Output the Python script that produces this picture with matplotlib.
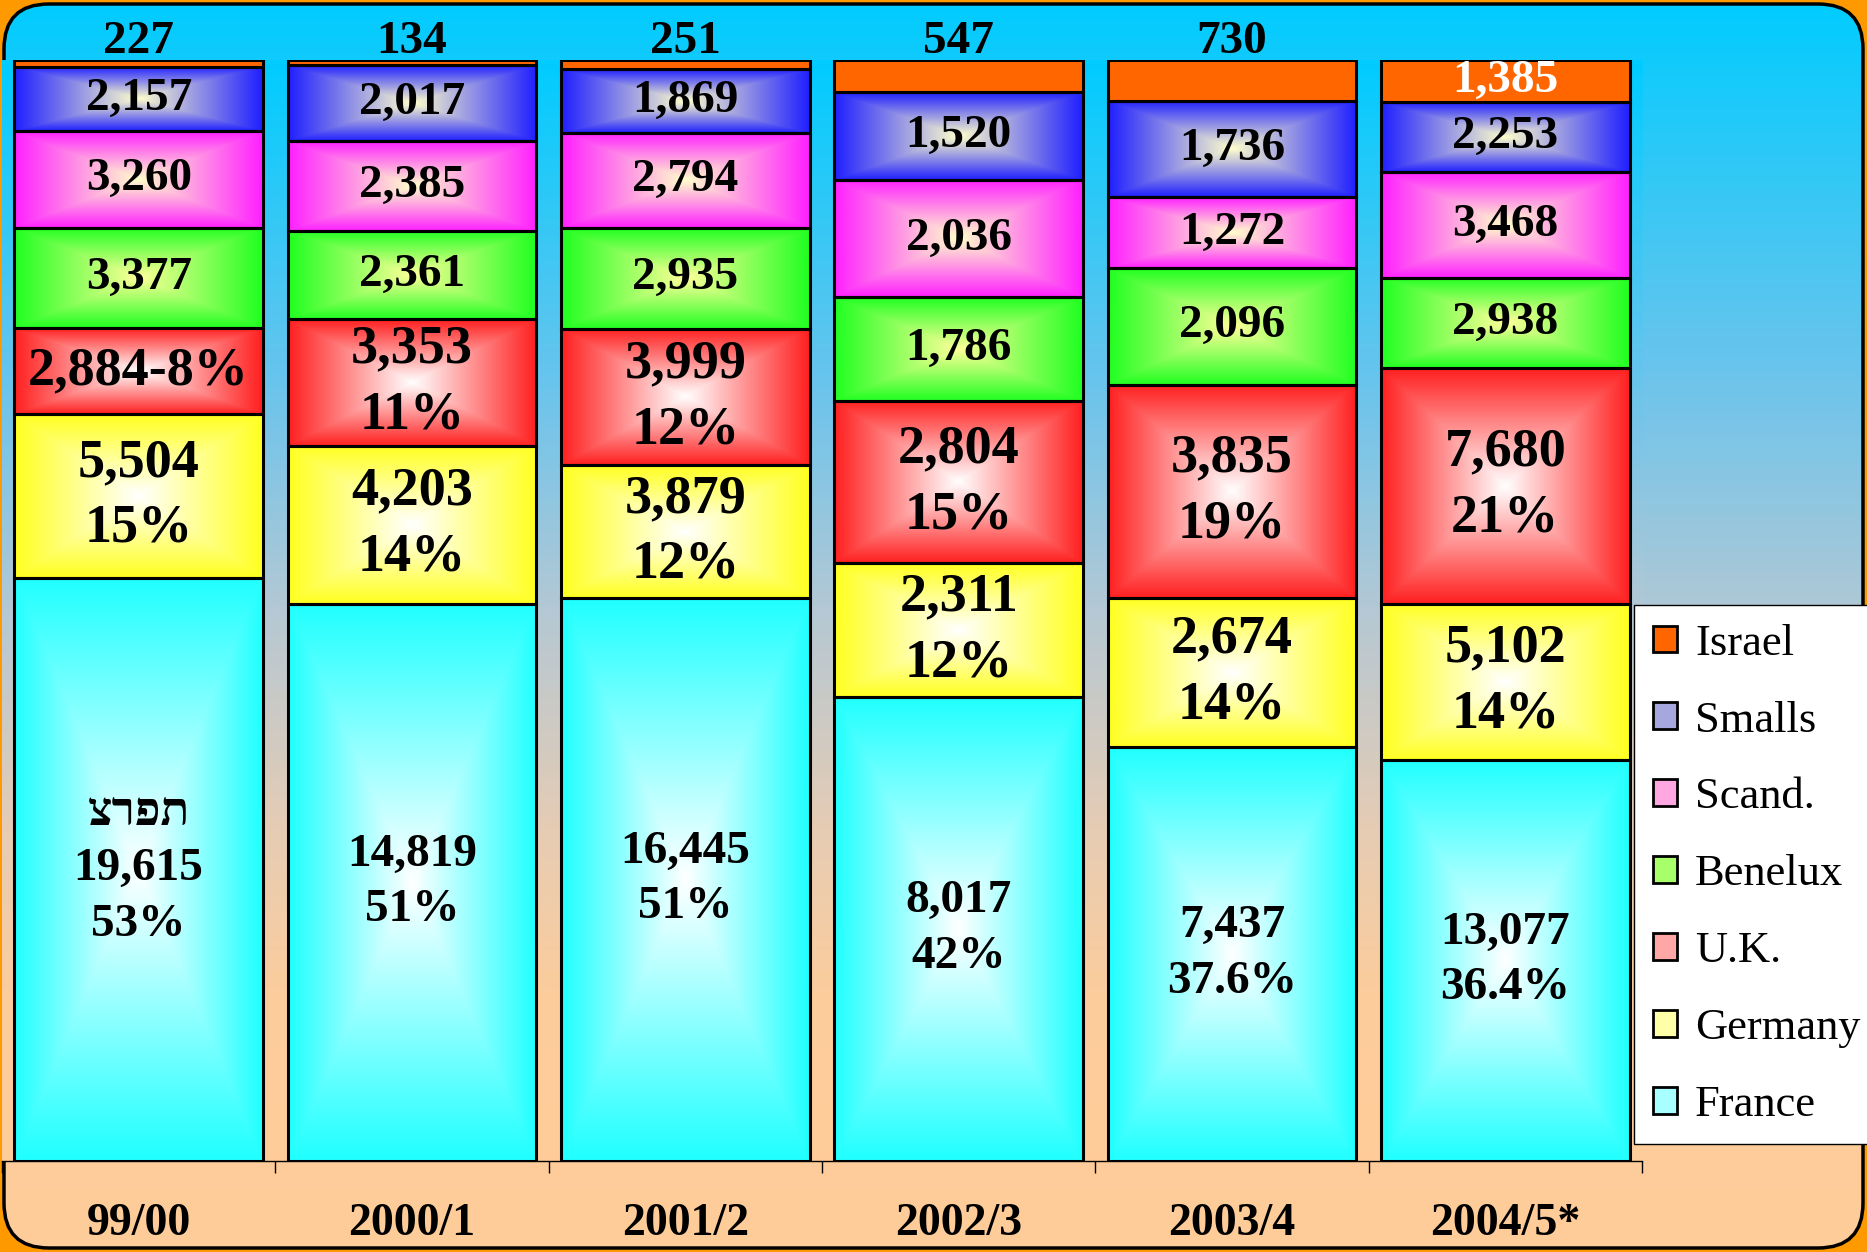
import numpy as np
import matplotlib.pyplot as plt
from matplotlib.patches import Rectangle, FancyBboxPatch, Patch
from matplotlib.colors import LinearSegmentedColormap, to_rgb

# ---- data ----
years = ['99/00', '2000/1', '2001/2', '2002/3', '2003/4', '2004/5*']
france = [19615, 14819, 16445, 8017, 7437, 13077]
germany = [5504, 4203, 3879, 2311, 2674, 5102]
uk = [2884, 3353, 3999, 2804, 3835, 7680]
benelux = [3377, 2361, 2935, 1786, 2096, 2938]
scand = [3260, 2385, 2794, 2036, 1272, 3468]
smalls = [2157, 2017, 1869, 1520, 1736, 2253]
israel = [227, 134, 251, 547, 730, 1385]
france_pct = ['53%', '51%', '51%', '42%', '37.6%', '36.4%']
germany_pct = ['15%', '14%', '12%', '12%', '14%', '14%']
uk_pct = ['8%', '11%', '12%', '15%', '19%', '21%']
france_he = 'צרפת'  # written over the first France value
israel_inside = [False, False, False, False, False, True]

W, H = 1867, 1252
SERIF = ['Liberation Serif', 'DejaVu Sans']

# name, values, edge colour, centre colour, label size
series = [
    ('France', france, '#22FFFF', '#FFFFFF', 34),
    ('Germany', germany, '#FFFF22', '#FFFFFF', 39),
    ('U.K.', uk, '#FF2222', '#FFFFFF', 39),
    ('Benelux', benelux, '#22FF22', '#FFFF99', 34),
    ('Scand.', scand, '#FF22FF', '#FFFFCC', 34),
    ('Smalls', smalls, '#2222FF', '#FFFFCC', 34),
    ('Israel', israel, '#FF6600', '#FF6600', 34),
]

sky = LinearSegmentedColormap.from_list('sky', [
    (0.0, '#00CCFF'), (0.3, '#6CC4EC'), (0.5, '#B4C8D4'),
    (0.7, '#E6CCB4'), (0.85, '#FCCC9C'), (1.0, '#FFCC99')])


def box_gradient(edge, centre, n=64):
    u = np.linspace(-1, 1, n)
    t = np.maximum(np.abs(u)[None, :], np.abs(u)[:, None])[..., None]
    e, c = np.array(to_rgb(edge)), np.array(to_rgb(centre))
    return c + (e - c) * t


def seg_label(name, i, v):
    if name == 'France':
        txt = f"{v:,}\n{france_pct[i]}"
        if i == 0:
            txt = france_he + "\n" + txt
        return txt
    if name == 'Germany':
        return f"{v:,}\n{germany_pct[i]}"
    if name == 'U.K.':
        return f"{v:,}-{uk_pct[i]}" if i == 0 else f"{v:,}\n{uk_pct[i]}"
    return f"{v:,}"


fig = plt.figure(figsize=(W / 100, H / 100), dpi=100, facecolor='#FF9900')

# rounded frame with the sky gradient
bg = fig.add_axes([0, 0, 1, 1])
bg.set_xlim(0, W)
bg.set_ylim(H, 0)
bg.axis('off')
frame = FancyBboxPatch((4, 4), W - 8, H - 8, boxstyle='round,pad=0,rounding_size=45',
                       facecolor='none', edgecolor='black', linewidth=2.5, zorder=3)
grad = np.linspace(0, 1, 256)[:, None]
im = bg.imshow(grad, cmap=sky, extent=(0, W, H, 0), aspect='auto', origin='upper', zorder=1)
bg.add_patch(frame)
im.set_clip_path(frame)

# plot area
ax = fig.add_axes([2 / W, 1 - 1161 / H, 1640 / W, 1101 / H])
ax.patch.set_visible(False)
ax.imshow(grad, cmap=sky, extent=(-0.5, 5.5, 0, 1), aspect='auto', origin='upper', zorder=0)

x = np.arange(len(years))
totals = np.sum([s[1] for s in series], axis=0)
bw = 0.91
bottom = np.zeros(len(years))
for name, vals, edge, centre, fs in series:
    frac = np.array(vals) / totals
    for i in range(len(years)):
        x0, y0, h = x[i] - bw / 2, bottom[i], frac[i]
        if name == 'Israel':
            ax.add_patch(Rectangle((x0, y0), bw, h, facecolor=edge, edgecolor='black',
                                   linewidth=2.2, zorder=3))
            if israel_inside[i]:
                ax.text(x[i], y0 + h / 2, f"{vals[i]:,}", ha='center', va='center',
                        fontsize=fs, fontweight='bold', family=SERIF, color='white', zorder=4)
            else:
                ax.annotate(f"{vals[i]:,}", xy=(x[i], y0 + h), xytext=(0, 13),
                            textcoords='offset points', ha='center', va='center',
                            fontsize=fs, fontweight='bold', family=SERIF,
                            annotation_clip=False, zorder=4)
        else:
            ax.imshow(box_gradient(edge, centre), extent=(x0, x0 + bw, y0, y0 + h),
                      aspect='auto', interpolation='bilinear', zorder=2)
            ax.add_patch(Rectangle((x0, y0), bw, h, facecolor='none', edgecolor='black',
                                   linewidth=2.2, zorder=3))
            ax.text(x[i], y0 + h / 2, seg_label(name, i, vals[i]), ha='center', va='center',
                    fontsize=fs, fontweight='bold', family=SERIF, linespacing=1.42, zorder=4)
    bottom += frac

ax.set_xlim(-0.5, 5.5)
ax.set_ylim(0, 1)
ax.set_yticks([])
for s in ['left', 'right', 'top']:
    ax.spines[s].set_visible(False)
ax.spines['bottom'].set_linewidth(1)
ax.set_xticks(x)
ax.set_xticklabels(years, fontsize=33, fontweight='bold', family=SERIF)
ax.set_xticks(np.arange(-0.5, 6), minor=True)
ax.tick_params(axis='x', which='major', length=0, pad=30)
ax.tick_params(axis='x', which='minor', length=8.6, width=1, direction='out')

# legend, top entry first
handles = []
for name, vals, edge, centre, fs in series[::-1]:
    fc = edge if name == 'Israel' else tuple(0.4 * np.array(to_rgb(edge)) + 0.6 * np.array(to_rgb(centre)))
    handles.append(Patch(facecolor=fc, edgecolor='black', linewidth=2, label=name))
leg = fig.legend(handles=handles, loc='upper left', bbox_to_anchor=(1634 / W, 1 - 605 / H),
                 borderaxespad=0, prop={'family': SERIF, 'size': 32}, frameon=True,
                 fancybox=False, edgecolor='black', framealpha=1, facecolor='white',
                 handlelength=0.55, handleheight=0.55, handletextpad=0.4,
                 borderpad=0.42, labelspacing=0.83)
leg.get_frame().set_linewidth(1)

fig.savefig('out.png', dpi=100, facecolor=fig.get_facecolor())
